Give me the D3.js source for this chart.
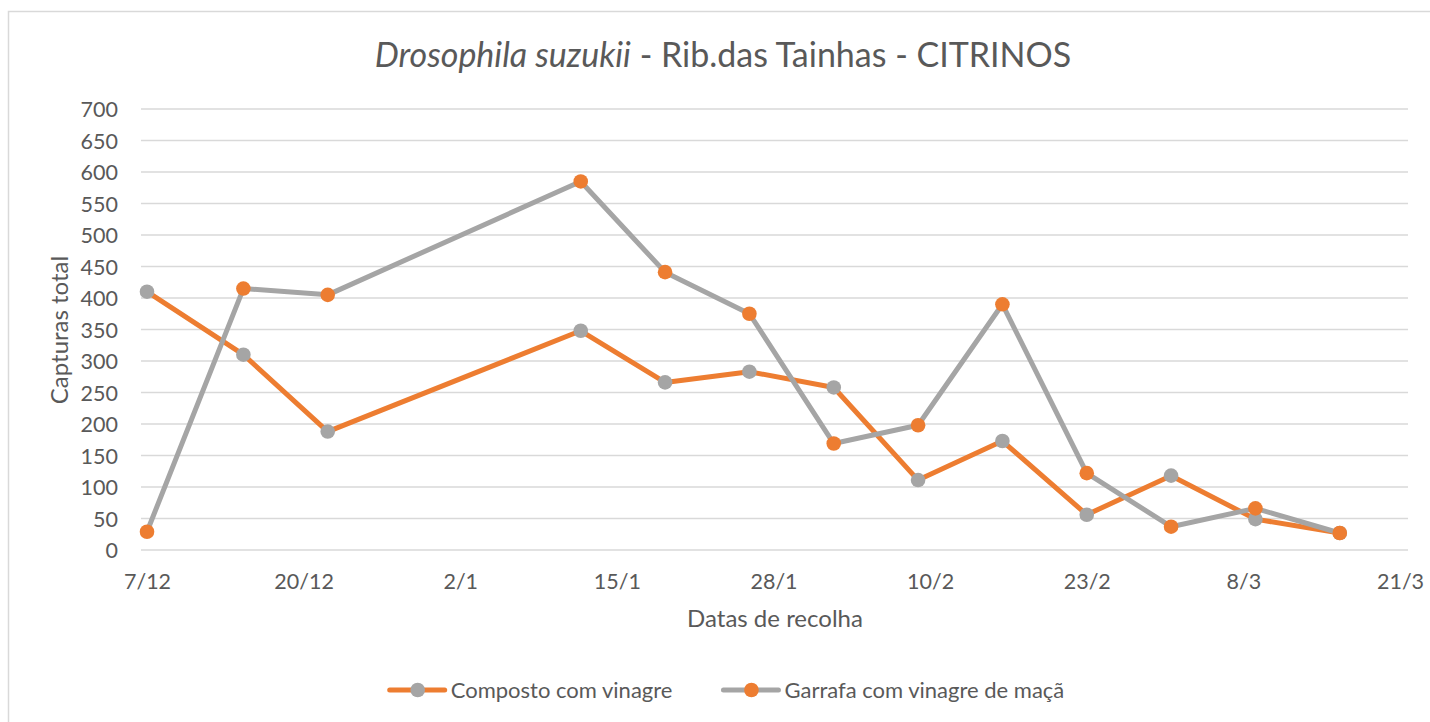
<!DOCTYPE html>
<html>
<head>
<meta charset="utf-8">
<script src="https://cdn.jsdelivr.net/npm/d3@7"></script>
<style>
  html, body { margin: 0; padding: 0; background: #fff; }
  svg { display: block; }
  text { font-family: Lato, "Noto Sans", sans-serif; fill: #595959; }
</style>
</head>
<body>
<svg id="chart" width="1430" height="722"></svg>
<script>
// ---- Data ----
const dates = ["2020-12-07","2020-12-15","2020-12-22","2021-01-12","2021-01-19","2021-01-26",
               "2021-02-02","2021-02-09","2021-02-16","2021-02-23","2021-03-02","2021-03-09","2021-03-16"];
const compostoValues = [410, 310, 188, 348, 266, 283, 258, 111, 173, 56, 118, 49, 27];
const garrafaValues  = [29, 415, 405, 585, 441, 375, 169, 198, 390, 122, 37, 66, 27];
const seriesNames = ["Composto com vinagre", "Garrafa com vinagre de maçã"];
const xTickLabels = ["7/12","20/12","2/1","15/1","28/1","10/2","23/2","8/3","21/3"];
const yTicks = [0,50,100,150,200,250,300,350,400,450,500,550,600,650,700];

const ORANGE = "#ED7D31", GREY = "#A5A5A5";

const parse = d3.timeParse("%Y-%m-%d");
const svg = d3.select("#chart");

// border
svg.append("rect").attr("x", 8.5).attr("y", 11.5).attr("width", 1440).attr("height", 730)
  .attr("fill", "none").attr("stroke", "#d9d9d9").attr("stroke-width", 1.5);

const x0 = parse("2020-12-07"), x1 = parse("2021-03-21");
const x = d3.scaleTime().domain([x0, x1]).range([147, 1400]);
const y = d3.scaleLinear().domain([0, 700]).range([550, 109]);
const halfDay = 12 * 3600 * 1000;

// gridlines
const gx0 = x(new Date(x0.getTime() - halfDay)), gx1 = x(new Date(x1.getTime() + halfDay)) + 2;
svg.append("g").selectAll("line").data(yTicks).join("line")
  .attr("x1", gx0).attr("x2", gx1)
  .attr("y1", d => y(d)).attr("y2", d => y(d))
  .attr("stroke", "#d9d9d9").attr("stroke-width", 1.3);

// y axis labels
const yAxis = d3.axisLeft(y).tickValues(yTicks).tickSize(0).tickPadding(0);
const yg = svg.append("g").attr("transform", "translate(118,0)").call(yAxis);
yg.select(".domain").remove();
yg.selectAll("text").attr("font-size", 21.5).attr("fill", "#595959")
  .style("font-family", "Lato, sans-serif").attr("dy", "0.36em");

// x axis labels
const tickDates = xTickLabels.map((_, i) => d3.timeDay.offset(x0, 13 * i));
const xAxis = d3.axisBottom(x).tickValues(tickDates).tickSize(0).tickPadding(0)
  .tickFormat((d, i) => xTickLabels[i]);
const xg = svg.append("g").attr("transform", "translate(0,574)").call(xAxis);
xg.select(".domain").remove();
xg.selectAll("text").attr("font-size", 21.5).attr("fill", "#595959")
  .style("font-family", "Lato, sans-serif").attr("dy", "0.71em");

// series
const series = [
  { name: seriesNames[0], values: compostoValues, line: ORANGE, marker: GREY },
  { name: seriesNames[1], values: garrafaValues, line: GREY, marker: ORANGE }
];
const line = d3.line().x(d => x(d.date)).y(d => y(d.v));
series.forEach(s => {
  const pts = dates.map((d, i) => ({ date: parse(d), v: s.values[i] }));
  svg.append("path").datum(pts).attr("d", line)
    .attr("fill", "none").attr("stroke", s.line).attr("stroke-width", 5)
    .attr("stroke-linejoin", "round").attr("stroke-linecap", "round");
  svg.append("g").selectAll("circle").data(pts).join("circle")
    .attr("cx", d => x(d.date)).attr("cy", d => y(d.v)).attr("r", 7.3)
    .attr("fill", s.marker);
});

// title
const title = svg.append("text").attr("x", 723).attr("y", 67).attr("text-anchor", "middle")
  .attr("font-size", 34);
title.append("tspan").attr("font-style", "italic").text("Drosophila suzukii");
title.append("tspan").text(" - Rib.das Tainhas - CITRINOS");

// axis titles
svg.append("text").attr("transform", "translate(68,330) rotate(-90)")
  .attr("text-anchor", "middle").attr("font-size", 24).text("Capturas total");
svg.append("text").attr("x", 775).attr("y", 627).attr("text-anchor", "middle")
  .attr("font-size", 24).text("Datas de recolha");

// legend
const lg = svg.append("g");
let cx = 0;
series.forEach((s, i) => {
  const g = lg.append("g").attr("transform", `translate(${cx},0)`);
  g.append("line").attr("x1", 0).attr("x2", 55).attr("y1", 0).attr("y2", 0)
    .attr("stroke", s.line).attr("stroke-width", 5).attr("stroke-linecap", "round");
  g.append("circle").attr("cx", 28).attr("cy", 0).attr("r", 7.3).attr("fill", s.marker);
  const t = g.append("text").attr("x", 61).attr("y", 0).attr("dy", "0.35em")
    .attr("font-size", 22).text(s.name);
  const w = t.node().getComputedTextLength();
  cx += 61 + w + 51;
});
const totalW = cx - 51;
lg.attr("transform", `translate(${727 - totalW / 2},690)`);
</script>
</body>
</html>
